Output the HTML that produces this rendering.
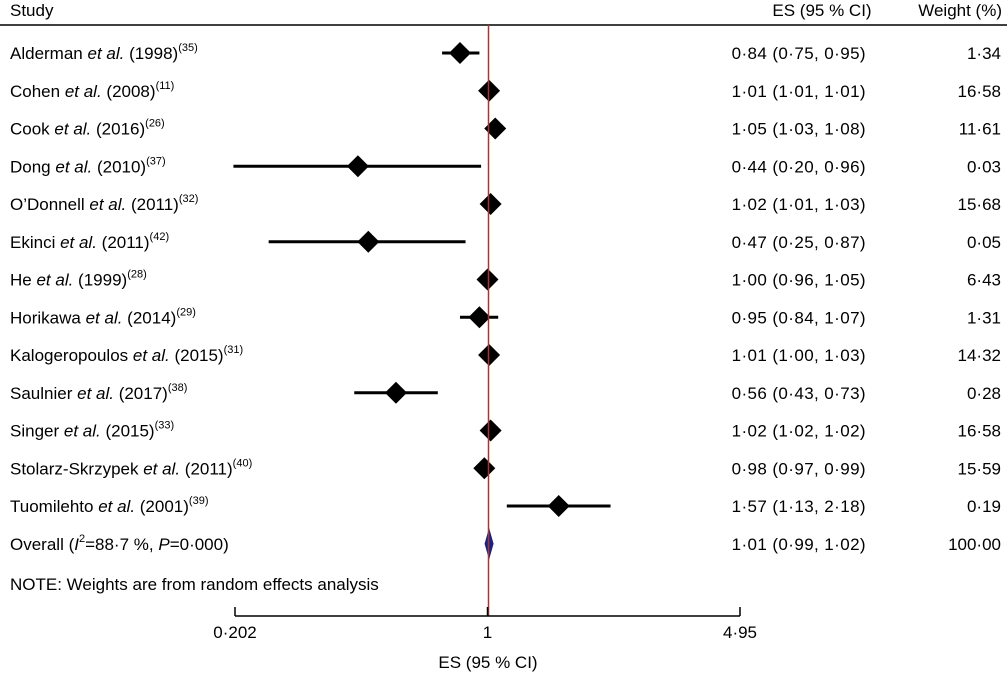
<!DOCTYPE html>
<html><head><meta charset="utf-8"><style>
html,body{margin:0;padding:0;background:#fff;}
svg{display:block;font-family:"Liberation Sans",sans-serif;}
</style></head><body>
<svg id="chart" width="1007" height="676" viewBox="0 0 1007 676">
<text x="10" y="16" font-size="17">Study</text>
<text x="822" y="16" font-size="17" text-anchor="middle">ES (95 % CI)</text>
<text x="1002" y="16" font-size="17" text-anchor="end">Weight (%)</text>
<line x1="0" y1="25" x2="1007" y2="25" stroke="#000" stroke-width="1.5"/>
<g id="rows"></g>
<text x="10" y="590" font-size="17">NOTE: Weights are from random effects analysis</text>
<text x="488" y="668" font-size="17" text-anchor="middle">ES (95 % CI)</text>
</svg>
<script>
const studies=["Alderman","Cohen","Cook","Dong","O’Donnell","Ekinci","He","Horikawa","Kalogeropoulos","Saulnier","Singer","Stolarz-Skrzypek","Tuomilehto"];
const years=["1998","2008","2016","2010","2011","2011","1999","2014","2015","2017","2015","2011","2001"];
const refs=["35","11","26","37","32","42","28","29","31","38","33","40","39"];
const es=[0.84,1.01,1.05,0.44,1.02,0.47,1.00,0.95,1.01,0.56,1.02,0.98,1.57];
const lo=[0.75,1.01,1.03,0.20,1.01,0.25,0.96,0.84,1.00,0.43,1.02,0.97,1.13];
const hi=[0.95,1.01,1.08,0.96,1.03,0.87,1.05,1.07,1.03,0.73,1.02,0.99,2.18];
const weights=["1·34","16·58","11·61","0·03","15·68","0·05","6·43","1·31","14·32","0·28","16·58","15·59","0·19"];
const overall=[1.01,0.99,1.02];
const axisTicks=[0.202,1,4.95];
const tickLabels=["0·202","1","4·95"];

const NS="http://www.w3.org/2000/svg";
const svg=document.getElementById('chart');
const g=document.getElementById('rows');
const xMin=0.202,xMax=4.95,pxL=235,pxR=740;
function xs(v){return pxL+(Math.log(v)-Math.log(xMin))/(Math.log(xMax)-Math.log(xMin))*(pxR-pxL);}
function ys(i){return 53+i*37.75;}
function fmt(v){return v.toFixed(2).replace('.','·');}
function mk(tag,attrs,parent){const e=document.createElementNS(NS,tag);for(const k in attrs)e.setAttribute(k,attrs[k]);(parent||g).appendChild(e);return e;}

studies.forEach((s,i)=>{
  const y=ys(i);
  const t=mk('text',{x:10,y:y+6,"font-size":17});
  
  
  t.innerHTML=s+' <tspan font-style="italic">et al.</tspan> ('+years[i]+')<tspan font-size="11" dy="-8">('+refs[i]+')</tspan>';
  const l=mk('line',{x1:xs(lo[i]),y1:y,x2:xs(hi[i]),y2:y,stroke:'#000',"stroke-width":3});
  
  
  const cx=xs(es[i]),r=11;
  const d=mk('polygon',{points:`${cx-r},${y} ${cx},${y-r} ${cx+r},${y} ${cx},${y+r}`,fill:'#000'});
  
  
  const e=mk('text',{x:866,y:y+6,"font-size":17,"text-anchor":"end","letter-spacing":"0.4"});
  
  
  e.textContent=`${fmt(es[i])} (${fmt(lo[i])}, ${fmt(hi[i])})`;
  const w=mk('text',{x:1001,y:y+6,"font-size":17,"text-anchor":"end"});
  
  
  w.textContent=weights[i];
});
// overall
const oy=ys(13);
const ot=mk('text',{x:10,y:oy+6,"font-size":17});


ot.innerHTML='Overall  (<tspan font-style="italic">I</tspan><tspan font-size="11" dy="-8">2</tspan><tspan dy="8">=88·7 %, </tspan><tspan font-style="italic">P</tspan>=0·000)';
const ol=Math.min(xs(overall[1]),xs(overall[0])-4),or=Math.max(xs(overall[2]),xs(overall[0])+4);
const od=mk('polygon',{points:`${ol},${oy} ${xs(overall[0])},${oy-14} ${or},${oy} ${xs(overall[0])},${oy+14}`,fill:'#1a237e',stroke:'#1a237e'});


const oe=mk('text',{x:866,y:oy+6,"font-size":17,"text-anchor":"end","letter-spacing":"0.4"});


oe.textContent=`${fmt(overall[0])} (${fmt(overall[1])}, ${fmt(overall[2])})`;
const ow=mk('text',{x:1001,y:oy+6,"font-size":17,"text-anchor":"end"});


ow.textContent='100·00';
// reference line
const ref=mk('line',{x1:xs(1)+1,y1:25,x2:xs(1)+1,y2:616,stroke:'#a33',"stroke-width":1.5},svg);


// axis
const ax=mk('line',{x1:pxL,y1:616,x2:pxR,y2:616,stroke:'#000',"stroke-width":1.5},svg);


axisTicks.forEach((v,i)=>{
  const tk=mk('line',{x1:xs(v),y1:607,x2:xs(v),y2:616,stroke:'#000',"stroke-width":1.5},svg);
  
  
  const tl=mk('text',{x:xs(v),y:638,"font-size":17,"text-anchor":"middle"},svg);
  
  
  tl.textContent=tickLabels[i];
});
</script>
</body></html>
